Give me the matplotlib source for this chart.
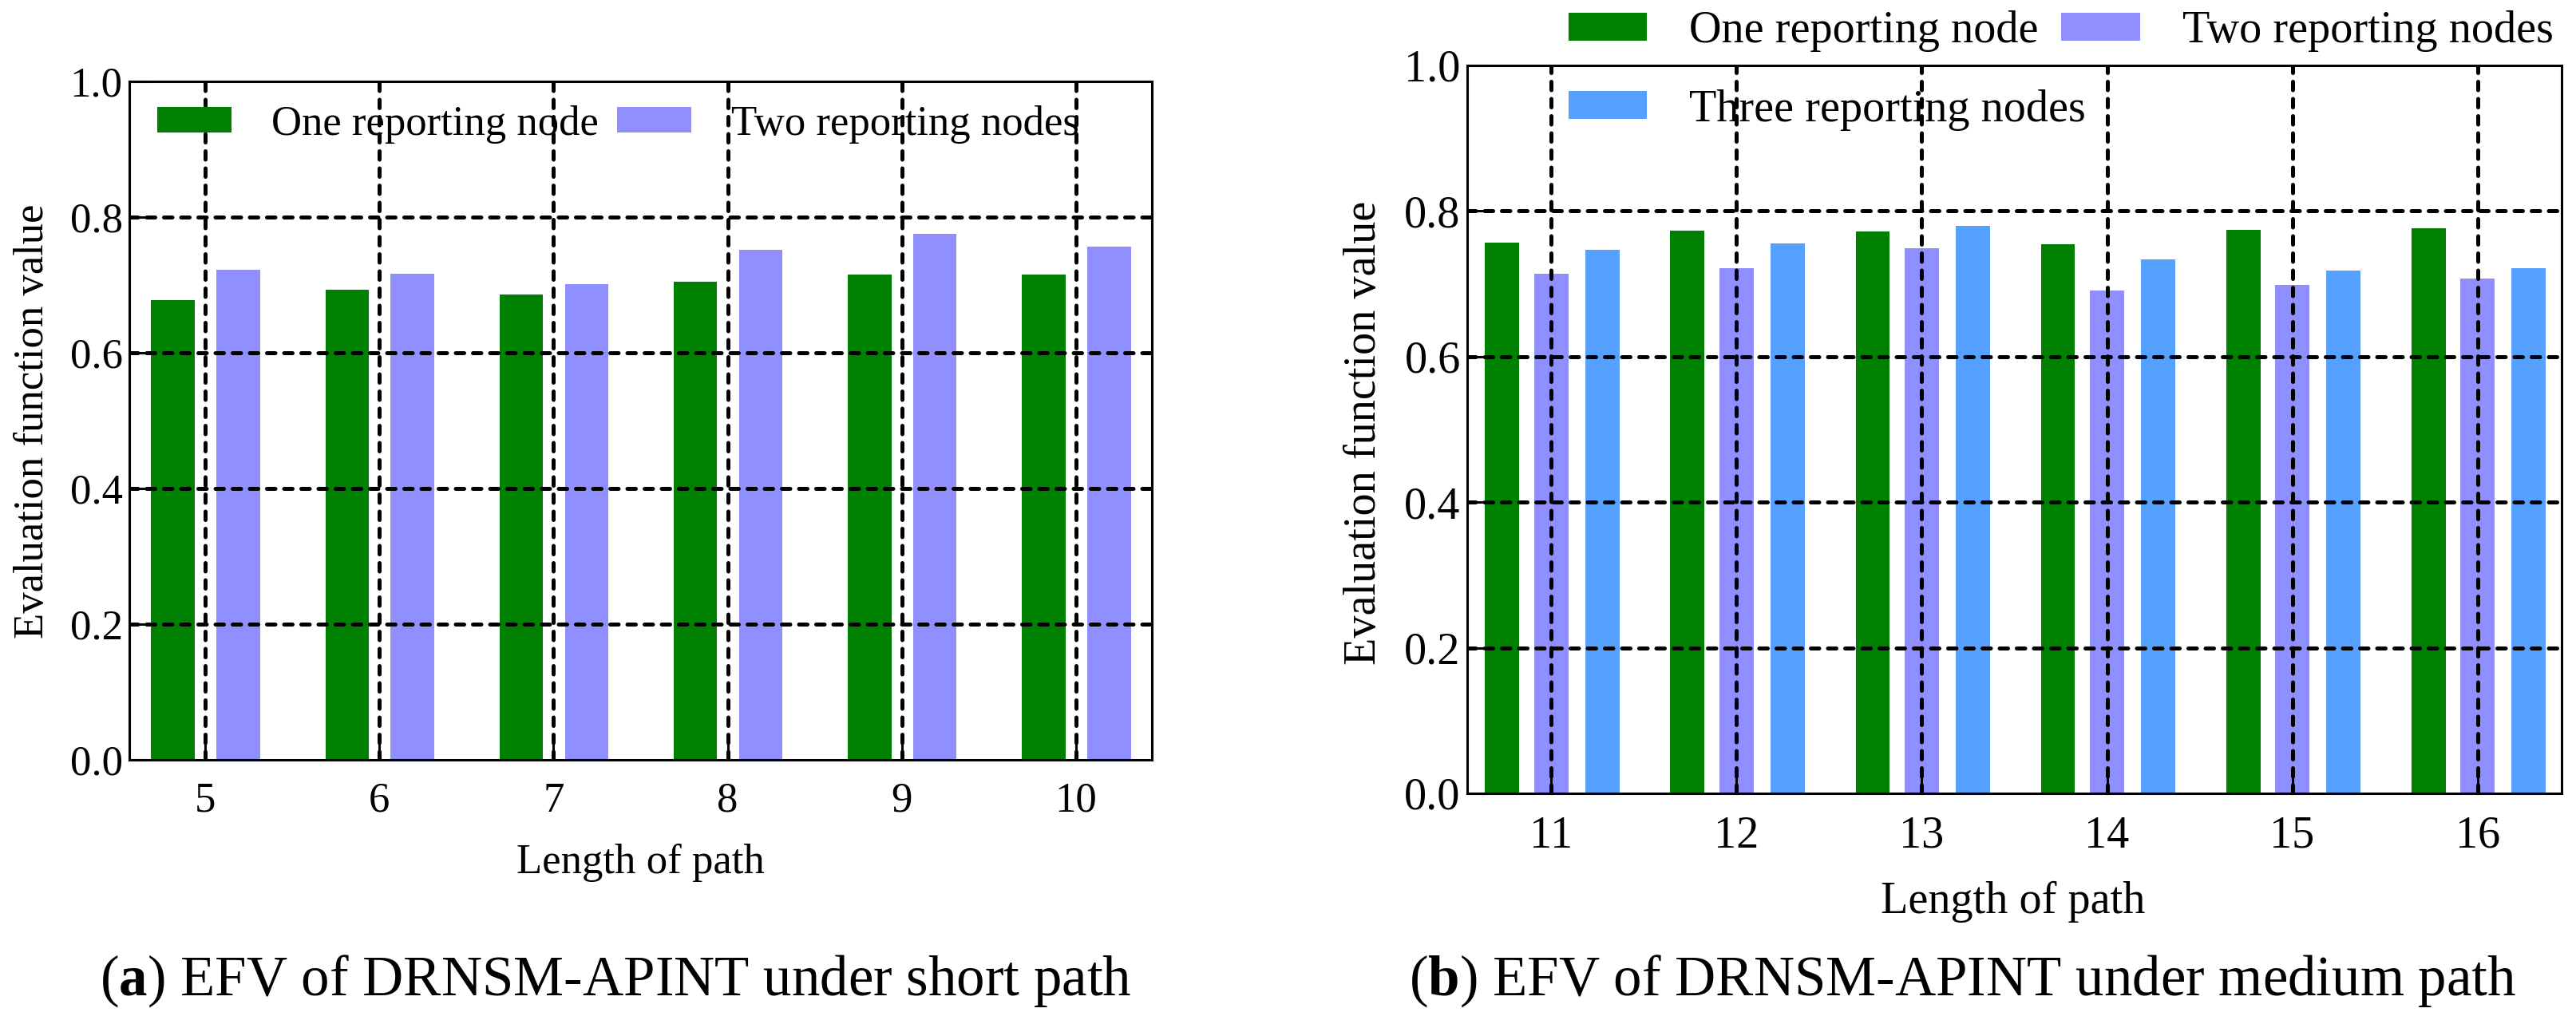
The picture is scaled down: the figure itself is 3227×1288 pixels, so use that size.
import matplotlib
matplotlib.use("Agg")
import matplotlib.pyplot as plt
import numpy as np

plt.rcParams['font.family'] = ['Liberation Serif', 'DejaVu Serif']
plt.rcParams['mathtext.fontset'] = 'custom'
plt.rcParams['mathtext.rm'] = 'Liberation Serif'
plt.rcParams['mathtext.bf'] = 'Liberation Serif:bold'

# ---- data ----
short_lengths = [5, 6, 7, 8, 9, 10]
short_one = [0.678, 0.693, 0.686, 0.705, 0.715, 0.715]
short_two = [0.722, 0.716, 0.701, 0.752, 0.775, 0.757]

medium_lengths = [11, 12, 13, 14, 15, 16]
medium_one = [0.757, 0.773, 0.772, 0.754, 0.774, 0.776]
medium_two = [0.714, 0.721, 0.749, 0.691, 0.698, 0.707]
medium_three = [0.747, 0.755, 0.780, 0.734, 0.718, 0.721]

labels = ["One reporting node", "Two reporting nodes", "Three reporting nodes"]
yticks = [0.0, 0.2, 0.4, 0.6, 0.8, 1.0]
caption_a = r"($\mathbf{a}$) EFV of DRNSM-APINT under short path"
caption_b = r"($\mathbf{b}$) EFV of DRNSM-APINT under medium path"
xlabel = "Length of path"
ylabel = "Evaluation function value"

GREEN = "#008000"
PURPLE = "#8F8FFF"
BLUE = "#56A0FF"

FS_A = 38
FS_B = 40.5
W, H = 3227, 1288
fig = plt.figure(figsize=(W / 100, H / 100), dpi=100)

def fx(px):
    return px / W

def fy(py):
    return 1 - py / H

axA = fig.add_axes([fx(162), fy(952), fx(1443 - 162), (952 - 102) / H])
axB = fig.add_axes([fx(1838), fy(994), fx(3209 - 1838), (994 - 82) / H])

grid_style = dict(color='black', linestyle=(0, (2.1, 2.2)), linewidth=3.6,
                  dash_capstyle='round', zorder=3)

def style_axes(ax, xticks, xlim, fs):
    ax.set_ylim(0, 1.0)
    ax.set_xlim(*xlim)
    ax.set_yticks(yticks)
    ax.set_yticklabels([f"{v:.1f}" for v in yticks])
    ax.set_xticks(xticks)
    ax.set_xticklabels([str(v) for v in xticks])
    ax.tick_params(axis='both', direction='in', length=18, width=2.2, labelsize=fs)
    ax.tick_params(axis='x', pad=20)
    ax.tick_params(axis='y', pad=6)
    for s in ax.spines.values():
        s.set_linewidth(2.2)
        s.set_zorder(4)
    for yv in yticks[1:-1]:
        ax.axhline(yv, **grid_style)
    for xv in xticks:
        ax.axvline(xv, **grid_style)

# ---- panel (a) ----
x = np.array(short_lengths, dtype=float)
w = 0.25
bA1 = axA.bar(x - 0.185, short_one, width=w, color=GREEN, label=labels[0], zorder=1)
bA2 = axA.bar(x + 0.19, short_two, width=w, color=PURPLE, label=labels[1], zorder=1)
style_axes(axA, short_lengths, (4.564, 10.436), FS_A)
axA.legend(handles=[bA1, bA2], loc='upper left', bbox_to_anchor=(0.011, 0.99),
           ncol=2, frameon=False, fontsize=FS_A, handlelength=1.75, handleheight=0.57,
           handletextpad=0.95, columnspacing=0.45, borderaxespad=0)

# ---- panel (b) ----
x = np.array(medium_lengths, dtype=float)
w = 0.185
bB1 = axB.bar(x - 0.265, medium_one, width=w, color=GREEN, label=labels[0], zorder=1)
bB2 = axB.bar(x + 0.0, medium_two, width=w, color=PURPLE, label=labels[1], zorder=1)
bB3 = axB.bar(x + 0.275, medium_three, width=w, color=BLUE, label=labels[2], zorder=1)
style_axes(axB, medium_lengths, (10.546, 16.454), FS_B)
axB.legend(handles=[bB1, bB3, bB2], loc='upper left',
           bbox_to_anchor=(fx(1942), 1.007), bbox_transform=fig.transFigure,
           ncol=2, frameon=False, fontsize=FS_B, handlelength=1.75, handleheight=0.57,
           handletextpad=0.95, columnspacing=-0.55, labelspacing=0.82, borderaxespad=0)

# ---- labels ----
fig.text(fx(41), fy(528), ylabel, rotation=90, ha='center', va='center', fontsize=FS_A)
fig.text(fx(1709), fy(542), ylabel, rotation=90, ha='center', va='center', fontsize=FS_B)
fig.text(fx(802), fy(1081), xlabel, ha='center', va='center', fontsize=FS_A)
fig.text(fx(2522), fy(1130), xlabel, ha='center', va='center', fontsize=FS_B)

fig.text(fx(771), fy(1229), caption_a, ha='center', va='center', fontsize=51)
fig.text(fx(2459), fy(1229), caption_b, ha='center', va='center', fontsize=51)

fig.savefig("out.png", dpi=100)
